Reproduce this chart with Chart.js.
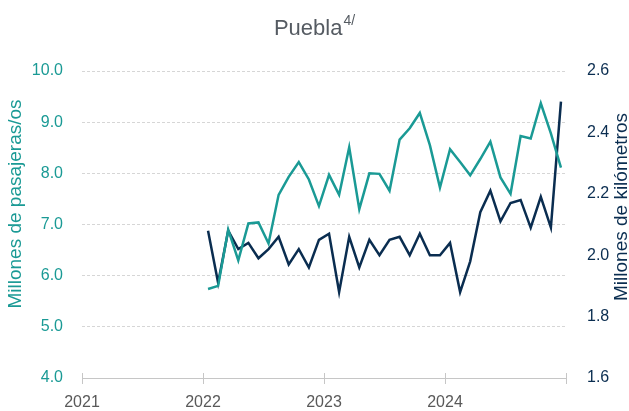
<!DOCTYPE html>
<html>
<head>
<meta charset="utf-8">
<script src="https://cdn.jsdelivr.net/npm/chart.js@4"></script>
<style>
  html, body { margin: 0; padding: 0; background: #fff; }
</style>
</head>
<body>
<canvas id="chart" width="629" height="411"></canvas>
<script>
// === DATA ===
const firstYear = 2022;
const pasajeros = [5.74, 5.80, 6.90, 6.30, 7.02, 7.04, 6.63, 7.58, 7.93, 8.22, 7.88, 7.36,
                   7.97, 7.58, 8.51, 7.30, 8.00, 7.99, 7.66, 8.66, 8.88, 9.18, 8.55, 7.72,
                   8.47, 8.22, 7.96, 8.28, 8.62, 7.92, 7.60, 8.73, 8.68, 9.37, 8.78, 8.11];
const kilometros = [2.08, 1.91, 2.08, 2.02, 2.04, 1.99, 2.02, 2.06, 1.97, 2.02, 1.96, 2.05,
                    2.07, 1.88, 2.06, 1.96, 2.05, 2.00, 2.05, 2.06, 2.00, 2.07, 2.00, 2.00,
                    2.04, 1.88, 1.98, 2.14, 2.21, 2.11, 2.17, 2.18, 2.09, 2.19, 2.09, 2.50];
const yearTicks = [2021, 2022, 2023, 2024, 2025];

// === COLORS ===
const TEAL = "#1a9a95";
const NAVY = "#0a2d50";
const GRAY = "#595959";
const FONT = '"Liberation Sans", Arial, sans-serif';

// month index -> decimal year (mid-month)
const toX = i => firstYear + (i + 0.5) / 12;
const pasajerosPts = pasajeros.map((v, i) => ({ x: toX(i), y: v }));
const kilometrosPts = kilometros.map((v, i) => ({ x: toX(i), y: v }));

// === EXTRA DRAWING: title, axis titles, x axis line ===
const decorPlugin = {
    id: "decor",
    afterDraw(chart) {
        const ctx = chart.ctx;
        const area = chart.chartArea;
        const xs = chart.scales.x;
        ctx.save();

        // x axis line with ticks crossing it
        ctx.strokeStyle = "#c6c6c6";
        ctx.lineWidth = 1;
        ctx.beginPath();
        ctx.moveTo(xs.getPixelForValue(2021), area.bottom + 0.5);
        ctx.lineTo(xs.getPixelForValue(2025), area.bottom + 0.5);
        yearTicks.forEach(y => {
            const px = Math.round(xs.getPixelForValue(y)) + 0.5;
            ctx.moveTo(px, area.bottom - 5);
            ctx.lineTo(px, area.bottom + 6);
        });
        ctx.stroke();

        // title with superscript
        ctx.fillStyle = "#555b62";
        ctx.textBaseline = "alphabetic";
        ctx.textAlign = "left";
        ctx.font = "22px " + FONT;
        const main = "Puebla";
        const wMain = ctx.measureText(main).width;
        ctx.font = "14px " + FONT;
        const wSup = ctx.measureText("4/").width;
        const startX = 314 - (wMain + wSup) / 2;
        ctx.font = "22px " + FONT;
        ctx.fillText(main, startX, 35);
        ctx.font = "14px " + FONT;
        ctx.fillText("4/", startX + wMain + 1, 25);

        // axis titles
        ctx.textAlign = "center";
        ctx.textBaseline = "middle";
        ctx.font = "19px " + FONT;
        ctx.fillStyle = TEAL;
        ctx.translate(16, 204);
        ctx.rotate(-Math.PI / 2);
        ctx.fillText("Millones de pasajeras/os", 0, 0);
        ctx.setTransform(1, 0, 0, 1, 0, 0);
        ctx.fillStyle = NAVY;
        ctx.translate(622, 207);
        ctx.rotate(-Math.PI / 2);
        ctx.fillText("Millones de kilómetros", 0, 0);
        ctx.restore();
    }
};

// === CHART ===
const chart = new Chart(document.getElementById("chart"), {
    type: "line",
    data: {
        datasets: [
            {
                label: "Pasajeras/os",
                data: pasajerosPts,
                borderColor: TEAL,
                borderWidth: 2.5,
                pointRadius: 0,
                tension: 0,
                yAxisID: "y"
            },
            {
                label: "Kilómetros",
                data: kilometrosPts,
                borderColor: NAVY,
                borderWidth: 2.5,
                pointRadius: 0,
                tension: 0,
                yAxisID: "y1"
            }
        ]
    },
    options: {
        responsive: false,
        animation: false,
        devicePixelRatio: 1,
        layout: { padding: { top: 71, left: 0, right: 0, bottom: 0 } },
        plugins: {
            legend: { display: false },
            title: { display: false },
            tooltip: { enabled: false }
        },
        scales: {
            x: {
                type: "linear",
                min: 2021,
                max: 2025,
                afterBuildTicks: s => { s.ticks = yearTicks.map(v => ({ value: v })); },
                afterFit: s => { s.height = 33; },
                ticks: {
                    callback: v => (v === 2025 ? "" : String(v)),
                    color: GRAY,
                    font: { family: FONT, size: 16 },
                    padding: 15,
                    maxRotation: 0
                },
                grid: { display: false, drawTicks: false },
                border: { display: false }
            },
            y: {
                position: "left",
                min: 4,
                max: 10,
                afterFit: s => { s.width = 82; },
                ticks: {
                    stepSize: 1,
                    callback: v => v.toFixed(1),
                    color: TEAL,
                    font: { family: FONT, size: 16 },
                    padding: 19
                },
                grid: { color: "#d6d6d6", lineWidth: 1, drawTicks: false },
                border: { display: false, dash: [3, 2] }
            },
            y1: {
                position: "right",
                min: 1.6,
                max: 2.6,
                afterFit: s => { s.width = 63; },
                ticks: {
                    stepSize: 0.2,
                    callback: v => v.toFixed(1),
                    color: NAVY,
                    font: { family: FONT, size: 16 },
                    padding: 21
                },
                grid: { drawOnChartArea: false, drawTicks: false },
                border: { display: false }
            }
        }
    },
    plugins: [decorPlugin]
});
</script>
</body>
</html>
